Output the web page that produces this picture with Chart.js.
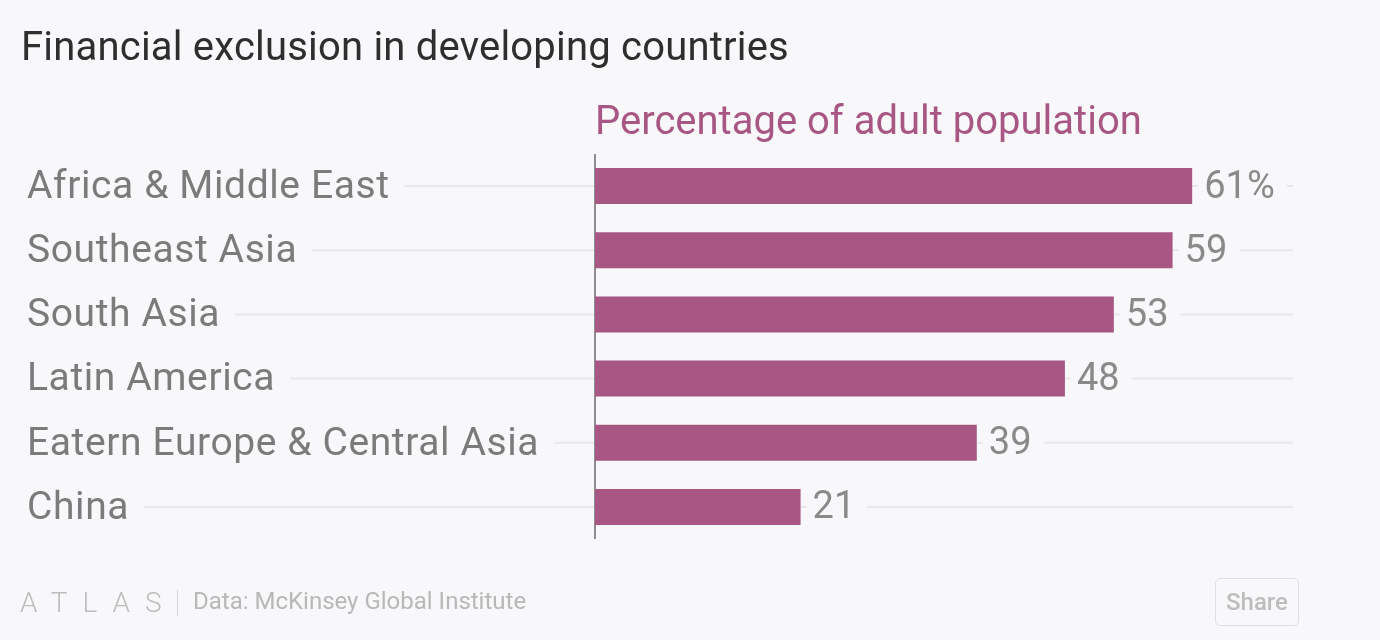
<!DOCTYPE html>
<html>
<head>
<meta charset="utf-8">
<script src="https://cdn.jsdelivr.net/npm/chart.js@4"></script>
<style>
  body { margin: 0; background: #f8f7f9; font-family: Roboto, "Noto Sans", sans-serif; }
  #wrap { position: relative; width: 1380px; height: 640px; overflow: hidden; }
  #chart { position: absolute; left: 0; top: 0; }
  .title { position: absolute; left: 21px; top: 23px; font-size: 40px; color: #2e2e2e; letter-spacing: 0.2px; }
  .subtitle { position: absolute; left: 595px; top: 97px; font-size: 40px; color: #a85784; }
  .logo { position: absolute; left: 20px; top: 586px; font-size: 28px; font-weight: 300; color: #bdbdbd; letter-spacing: 15px; }
  .sep { position: absolute; left: 177px; top: 590px; width: 1px; height: 26px; background: #d4d4d4; }
  .source { position: absolute; left: 193px; top: 587px; font-size: 24px; color: #b8b8b8; }
  .share { position: absolute; left: 1215px; top: 578px; width: 82px; height: 46px; border: 1px solid #e0dfe2; border-radius: 5px;
           font-size: 24px; font-weight: 500; color: #bdbdbd; text-align: center; line-height: 46px; }
</style>
</head>
<body>
<div id="wrap">
  <canvas id="chart" width="1380" height="640"></canvas>
  <div class="title">Financial exclusion in developing countries</div>
  <div class="subtitle">Percentage of adult population</div>
  <div class="logo">ATLAS</div>
  <div class="sep"></div>
  <div class="source">Data: McKinsey Global Institute</div>
  <div class="share">Share</div>
</div>
<script>
const regiones = ["Africa & Middle East", "Southeast Asia", "South Asia", "Latin America", "Eatern Europe & Central Asia", "China"];
const valores = [61, 59, 53, 48, 39, 21];
const etiquetas = ["61%", "59", "53", "48", "39", "21"];
const xMax = 71.3;

const colorBarra = "#a85784";
const colorFondo = "#f8f7f9";

// lineas guia, nombres y eje
const decoracion = {
    id: "decoracion",
    beforeDatasetsDraw(chart) {
        const ctx = chart.ctx;
        const area = chart.chartArea;
        const y = chart.scales.y;
        ctx.save();
        ctx.font = "39px Roboto";
        ctx.letterSpacing = "0.6px";
        ctx.textBaseline = "middle";
        regiones.forEach((nombre, i) => {
            const py = y.getPixelForValue(i);
            ctx.strokeStyle = "#e9e7eb";
            ctx.lineWidth = 2;
            ctx.beginPath();
            ctx.moveTo(27, py);
            ctx.lineTo(area.right, py);
            ctx.stroke();
            const w = ctx.measureText(nombre).width;
            ctx.fillStyle = colorFondo;
            ctx.fillRect(20, py - 26, w + 22, 52);
            ctx.fillStyle = "#7b7b7b";
            ctx.fillText(nombre, 27, py + 2);
        });
        ctx.strokeStyle = "#8e8e8e";
        ctx.lineWidth = 2;
        ctx.beginPath();
        ctx.moveTo(area.left, area.top);
        ctx.lineTo(area.left, area.bottom);
        ctx.stroke();
        ctx.restore();
    },
    afterDatasetsDraw(chart) {
        const ctx = chart.ctx;
        const meta = chart.getDatasetMeta(0);
        ctx.save();
        ctx.font = "38px Roboto";
        ctx.textBaseline = "middle";
        meta.data.forEach((bar, i) => {
            const w = ctx.measureText(etiquetas[i]).width;
            ctx.fillStyle = colorFondo;
            ctx.fillRect(bar.x + 6, bar.y - 24, w + 18, 48);
            ctx.fillStyle = "#8a8a8a";
            ctx.fillText(etiquetas[i], bar.x + 12, bar.y + 2);
        });
        ctx.restore();
    }
};

new Chart(document.getElementById("chart"), {
    type: "bar",
    data: {
        labels: regiones,
        datasets: [{
            data: valores,
            backgroundColor: colorBarra,
            borderWidth: 0,
            categoryPercentage: 1,
            barPercentage: 0.56
        }]
    },
    options: {
        indexAxis: "y",
        responsive: false,
        animation: false,
        layout: { padding: { left: 595, right: 87, top: 154, bottom: 101 } },
        plugins: { legend: { display: false }, tooltip: { enabled: false } },
        scales: {
            x: { display: false, min: 0, max: xMax },
            y: { display: false }
        }
    },
    plugins: [decoracion]
});
</script>
</body>
</html>
